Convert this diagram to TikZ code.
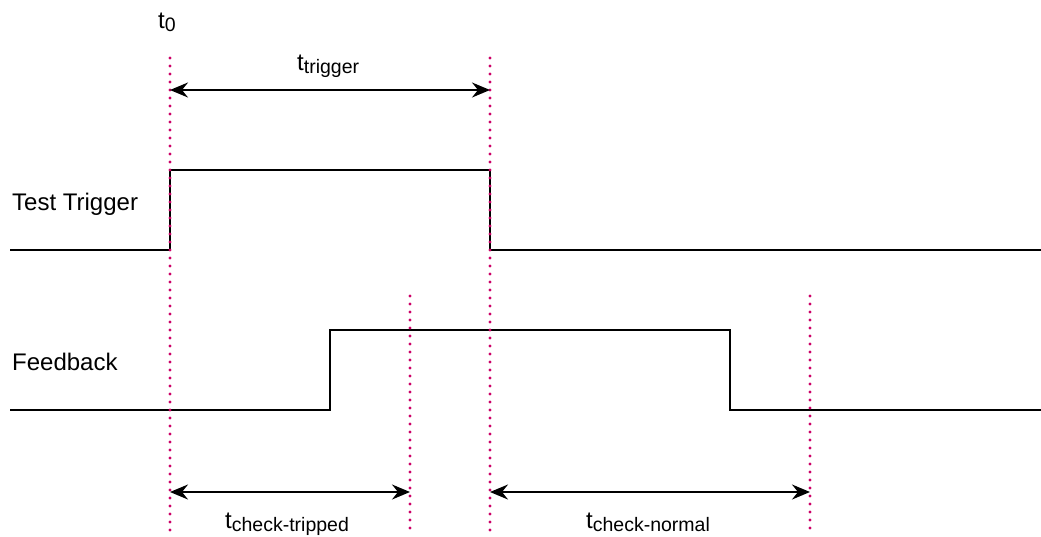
\documentclass[tikz,border=0pt]{standalone}
\usepackage{fontspec}
\setmainfont{Liberation Sans}
\usetikzlibrary{arrows.meta}
\definecolor{markc}{RGB}{204,0,102}
\newcommand\tsub[1]{t\raisebox{-3pt}{\fontsize{19.5pt}{20pt}\selectfont #1}}
\begin{document}
\begin{tikzpicture}[x=1pt,y=-1pt,
  marker/.style={draw=markc, line width=3.4pt, dash pattern=on 0pt off 8pt, line cap=round},
  signal/.style={draw=black, line width=2pt},
  span/.style={draw=black, line width=2pt, {Stealth[length=18pt,width=15pt,inset=6pt]}-{Stealth[length=18pt,width=15pt,inset=6pt]}},
  txt/.style={font=\fontsize{24pt}{28pt}\selectfont, inner sep=0pt, anchor=base west}]
\useasboundingbox (0,0) rectangle (1041,536);
% marker coordinates
\coordinate (m0top) at (170,58);  \coordinate (m0bot) at (170,534);
\coordinate (m1top) at (490,58);  \coordinate (m1bot) at (490,534);
\coordinate (m2top) at (410,296); \coordinate (m2bot) at (410,534);
\coordinate (m3top) at (810,296); \coordinate (m3bot) at (810,534);
% trigger signal
\coordinate (tr0) at (10,250);  \coordinate (tr1) at (170,250);
\coordinate (tr2) at (170,170); \coordinate (tr3) at (490,170);
\coordinate (tr4) at (490,250); \coordinate (tr5) at (1041,250);
\draw[signal] (tr0) -- (tr1) -- (tr2) -- (tr3) -- (tr4) -- (tr5);
% feedback signal
\coordinate (fb0) at (10,410);  \coordinate (fb1) at (330,410);
\coordinate (fb2) at (330,330); \coordinate (fb3) at (730,330);
\coordinate (fb4) at (730,410); \coordinate (fb5) at (1041,410);
\draw[signal] (fb0) -- (fb1) -- (fb2) -- (fb3) -- (fb4) -- (fb5);
% markers
\draw[marker] (m0top) -- (m0bot);
\draw[marker] (m1top) -- (m1bot);
\draw[marker] (m2top) -- (m2bot);
\draw[marker] (m3top) -- (m3bot);
% spans
\coordinate (a0) at (170,90);  \coordinate (a1) at (490,90);
\coordinate (b0) at (170,492); \coordinate (b1) at (410,492);
\coordinate (c0) at (490,492); \coordinate (c1) at (810,492);
\draw[span] (a0) -- (a1);
\draw[span] (b0) -- (b1);
\draw[span] (c0) -- (c1);
% labels
\node[txt] (lt0) at (158,28) {\tsub{0}};
\node[txt] (ltrig) at (297,70) {\tsub{trigger}};
\node[txt] (ltrip) at (225,528) {\tsub{check-tripped}};
\node[txt] (lnorm) at (586,528) {\tsub{check-normal}};
\node[txt] (ltest) at (12,210) {Test Trigger};
\node[txt] (lfb) at (12,370) {Feedback};
\end{tikzpicture}
\end{document}
